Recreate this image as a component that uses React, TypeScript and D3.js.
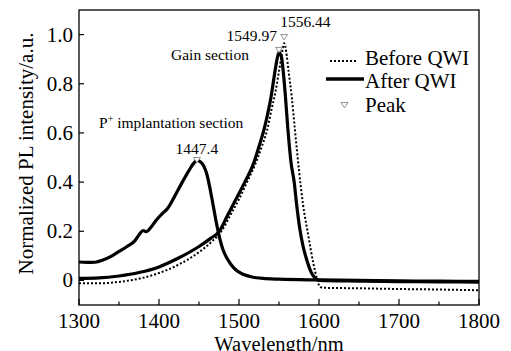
import * as d3 from "d3";

// After QWI, P+ implantation section
const afterImplant: [number, number][] = [
  [1300, 0.075], [1310, 0.073], [1320, 0.074], [1330, 0.083], [1340, 0.098],
  [1350, 0.118], [1360, 0.138], [1370, 0.162], [1376, 0.19], [1380, 0.203],
  [1384, 0.198], [1390, 0.216], [1396, 0.243], [1405, 0.275], [1410, 0.29],
  [1420, 0.345], [1430, 0.405], [1438, 0.45], [1443, 0.475], [1447.4, 0.488],
  [1452, 0.482], [1456, 0.465], [1460, 0.43], [1464, 0.37], [1468, 0.3],
  [1472, 0.23], [1476, 0.17], [1480, 0.125], [1485, 0.09], [1490, 0.065],
  [1497, 0.04], [1505, 0.025], [1515, 0.015], [1530, 0.008], [1550, 0.005],
  [1600, 0.002], [1650, 0], [1700, -0.002], [1750, -0.003], [1800, -0.004],
];

// After QWI, gain section
const afterGain: [number, number][] = [
  [1300, 0.008], [1325, 0.01], [1350, 0.018], [1375, 0.032], [1400, 0.055],
  [1425, 0.092], [1450, 0.138], [1465, 0.172], [1475, 0.198], [1485, 0.26],
  [1497, 0.335], [1508, 0.405], [1518, 0.474], [1525, 0.545], [1531, 0.61],
  [1536, 0.68], [1540, 0.745], [1544, 0.83], [1547, 0.89], [1549.97, 0.928],
  [1553, 0.91], [1555, 0.86], [1558, 0.75], [1561, 0.62], [1565, 0.48],
  [1569, 0.4], [1572, 0.31], [1576, 0.21], [1580, 0.14], [1585, 0.08],
  [1590, 0.035], [1595, 0.01], [1600, 0], [1650, -0.003], [1700, -0.005],
  [1750, -0.006], [1800, -0.007],
];

// Before QWI
const before: [number, number][] = [
  [1300, -0.012], [1325, -0.012], [1350, -0.006], [1375, 0.007], [1400, 0.03],
  [1425, 0.065], [1450, 0.115], [1465, 0.155], [1478, 0.2], [1490, 0.27],
  [1500, 0.33], [1510, 0.4], [1520, 0.47], [1528, 0.54], [1535, 0.61],
  [1541, 0.7], [1546, 0.775], [1550, 0.85], [1553, 0.91], [1556.44, 0.965],
  [1559, 0.93], [1562, 0.85], [1566, 0.745], [1570, 0.61], [1575, 0.447],
  [1580, 0.31], [1587, 0.176], [1593, 0.068], [1597, 0.013], [1601, -0.025],
  [1605, -0.03], [1650, -0.032], [1700, -0.035], [1750, -0.037], [1800, -0.04],
];

const peakX = [1447.4, 1549.97, 1556.44];
const peakY = [0.49, 0.938, 0.99];

const xTicks = [1300, 1400, 1500, 1600, 1700, 1800];
const xMinor = [1350, 1450, 1550, 1650, 1750];
const yTicks = [0, 0.2, 0.4, 0.6, 0.8, 1.0];

const W = 511, H = 351;
const m = { left: 79, right: 32, top: 10, bottom: 46 };
const font = "'Liberation Serif', 'Times New Roman', serif";

export default function App() {
  const x = d3.scaleLinear().domain([1300, 1800]).range([m.left, W - m.right]);
  const y = d3.scaleLinear().domain([-0.1, 1.1]).range([H - m.bottom, m.top]);
  const line = d3.line<[number, number]>()
    .x((d) => x(d[0]))
    .y((d) => y(d[1]))
    .curve(d3.curveMonotoneX);

  // open down-pointing triangle used for the peak markers
  const tri = (cx: number, cy: number, s = 3.5) =>
    `M${cx - s},${cy - s * 0.7}L${cx + s},${cy - s * 0.7}L${cx},${cy + s * 0.8}Z`;

  const x0 = m.left, x1 = W - m.right, y0 = m.top, y1 = H - m.bottom;

  return (
    <svg width={W} height={H} style={{ position: "absolute", left: 0, top: 0, background: "#fff" }} fontFamily={font}>
      <defs>
        <clipPath id="plot">
          <rect x={x0} y={y0} width={x1 - x0} height={y1 - y0} />
        </clipPath>
      </defs>
      <g clipPath="url(#plot)">
        <path d={line(before) ?? ""} fill="none" stroke="#000" strokeWidth={2} strokeDasharray="2,2" />
        <path d={line(afterGain) ?? ""} fill="none" stroke="#000" strokeWidth={3.2} />
        <path d={line(afterImplant) ?? ""} fill="none" stroke="#000" strokeWidth={3.2} />
      </g>
      {peakX.map((px, i) => (
        <path key={px} d={tri(x(px), y(peakY[i]))} fill="#fff" stroke="#777" strokeWidth={0.8} />
      ))}
      {/* peak labels */}
      <text x={x(peakX[0])} y={y(peakY[0]) - 6} textAnchor="middle" fontSize={15.5}>1447.4</text>
      <text x={x(peakX[1]) - 2} y={40.5} textAnchor="end" fontSize={15.5}>1549.97</text>
      <text x={x(peakX[2]) - 4} y={27} textAnchor="start" fontSize={15.5}>1556.44</text>
      <text x={171} y={60} fontSize={15.5}>Gain section</text>
      <text x={99} y={128} fontSize={15.5}>
        P<tspan fontSize={10} dy={-6}>+</tspan><tspan dy={6}> implantation section</tspan>
      </text>

      {/* frame */}
      <rect x={x0} y={y0} width={x1 - x0} height={y1 - y0} fill="none" stroke="#000" strokeWidth={1.3} />

      {/* x axis */}
      {xTicks.map((t) => (
        <g key={t}>
          <line x1={x(t)} x2={x(t)} y1={y1} y2={y1 - 6} stroke="#000" strokeWidth={1.2} />
          <text x={x(t)} y={328} textAnchor="middle" fontSize={21}>{t}</text>
        </g>
      ))}
      {xMinor.map((t) => (
        <line key={t} x1={x(t)} x2={x(t)} y1={y1} y2={y1 - 3.5} stroke="#000" strokeWidth={1.2} />
      ))}
      <text x={(x0 + x1) / 2} y={350.5} textAnchor="middle" fontSize={20.5}>Wavelength/nm</text>

      {/* y axis */}
      {yTicks.map((t) => (
        <g key={t}>
          <line x1={x0} x2={x0 + 5} y1={y(t)} y2={y(t)} stroke="#000" strokeWidth={1.2} />
          <text x={73} y={y(t)} textAnchor="end" dominantBaseline="central" fontSize={21}>
            {t === 0 ? "0" : d3.format(".1f")(t)}
          </text>
        </g>
      ))}
      <text transform={`translate(33,${(y0 + y1) / 2 - 4}) rotate(-90)`} textAnchor="middle" fontSize={21}>
        Normalized PL intensity/a.u.
      </text>

      {/* legend */}
      <line x1={330} x2={357} y1={61} y2={61} stroke="#000" strokeWidth={2} strokeDasharray="2,2" />
      <text x={365} y={65} fontSize={21}>Before QWI</text>
      <line x1={326} x2={364} y1={79} y2={79} stroke="#000" strokeWidth={3.5} />
      <text x={365} y={88} fontSize={21}>After QWI</text>
      <path d={tri(344.5, 105)} fill="#fff" stroke="#777" strokeWidth={0.8} />
      <text x={365} y={111.5} fontSize={21}>Peak</text>
    </svg>
  );
}
